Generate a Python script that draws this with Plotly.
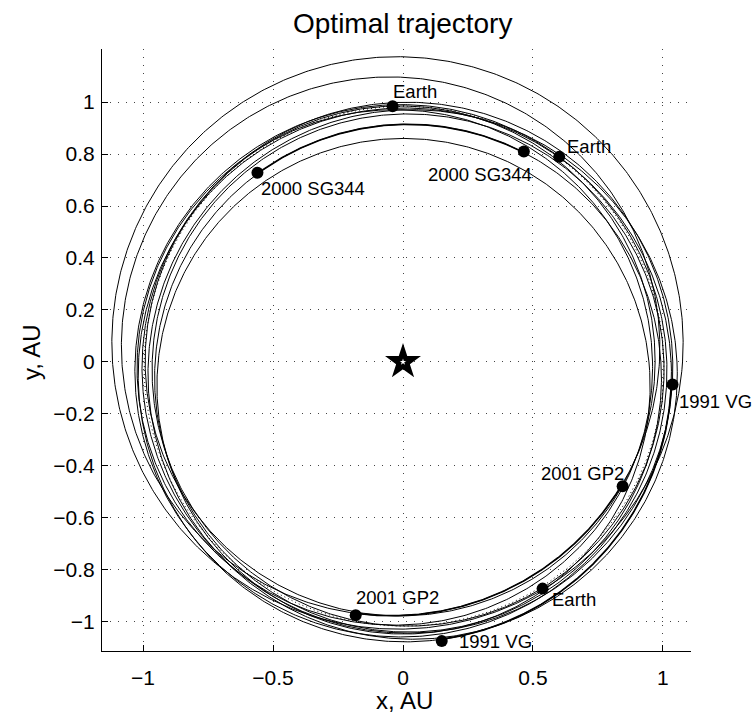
import numpy as np
import plotly.graph_objects as go

# ---- Planar orbit elements of the bodies (a [AU], e, longitude of perihelion [deg]) ----
body_names = ["Earth", "1991 VG", "2000 SG344", "2001 GP2"]
body_a = [1.000, 1.027, 0.977, 1.0375]
body_e = [0.0167, 0.049, 0.067, 0.0739]
body_lp = [102.9, 98.0, 107.2, -51.6]

# ---- Transfer loops: radius at right / top / left / bottom ----
loop_r_right = [1.073, 1.054, 1.038, 1.015, 1.004, 0.946, 0.970, 0.960]
loop_r_top = [1.177, 0.970, 0.999, 0.990, 0.954, 0.860, 0.985, 0.970]
loop_r_left = [1.115, 0.980, 1.004, 1.031, 0.965, 0.942, 0.992, 1.023]
loop_r_bottom = [1.030, 1.066, 1.043, 1.058, 1.016, 1.047, 0.977, 1.012]

# ---- Event markers (positions in AU) and their labels ----
event_labels = ["Earth", "Earth", "Earth", "2000 SG344", "2000 SG344",
                "2001 GP2", "2001 GP2", "1991 VG", "1991 VG"]
event_x = [-0.040, 0.601, 0.537, -0.560, 0.465, 0.845, -0.182, 1.037, 0.149]
event_y = [0.984, 0.789, -0.872, 0.728, 0.810, -0.478, -0.974, -0.087, -1.074]
label_x = [-0.045, 0.622, 0.567, -0.555, 0.088, 0.522, -0.190, 1.054, 0.207]
label_y = [1.040, 0.827, -0.913, 0.667, 0.721, -0.431, -0.906, -0.154, -1.076]

# ---- Stay arcs along asteroid orbits (between arrival and departure markers) ----
stay_body = ["2000 SG344", "2001 GP2", "1991 VG"]
stay_start_event = [4, 6, 8]
stay_end_event = [3, 5, 7]

x_ticks = [-1, -0.5, 0, 0.5, 1]
x_ticktext = ["\u22121", "\u22120.5", "0", "0.5", "1"]
y_ticks = [-1, -0.8, -0.6, -0.4, -0.2, 0, 0.2, 0.4, 0.6, 0.8, 1]
y_ticktext = ["\u22121", "\u22120.8", "\u22120.6", "\u22120.4", "\u22120.2", "0",
              "0.2", "0.4", "0.6", "0.8", "1"]

FONT = "Liberation Sans, Arial, Helvetica, sans-serif"

# plot-area geometry (pixels) used to place title texts
W, H = 753, 718
ML, MR, MT, MB = 102, 62, 49, 67
PW, PH = W - ML - MR, H - MT - MB


def px_to_paper(px, py):
    return (px - ML) / PW, (H - MB - py) / PH


def conic_r(a, e, lp_deg, th):
    p = a * (1 - e ** 2)
    return p / (1 + e * np.cos(th - np.radians(lp_deg)))


fig = go.Figure()
th_full = np.linspace(0, 2 * np.pi, 721)

# transfer loops
for rr, rt, rl, rb in zip(loop_r_right, loop_r_top, loop_r_left, loop_r_bottom):
    A = 0.5 * ((1 / rr + 1 / rl) / 2 + (1 / rt + 1 / rb) / 2)
    B = (1 / rr - 1 / rl) / 2
    C = (1 / rt - 1 / rb) / 2
    r = 1 / (A + B * np.cos(th_full) + C * np.sin(th_full))
    fig.add_trace(go.Scatter(x=r * np.cos(th_full), y=r * np.sin(th_full), mode="lines",
                             line=dict(color="black", width=1), hoverinfo="skip"))

# body orbits
for name, a, e, lp in zip(body_names, body_a, body_e, body_lp):
    r = conic_r(a, e, lp, th_full)
    dash = "1px,3px" if name == "Earth" else "solid"
    fig.add_trace(go.Scatter(x=r * np.cos(th_full), y=r * np.sin(th_full), mode="lines",
                             line=dict(color="black", width=1, dash=dash), hoverinfo="skip"))

# stay arcs (thicker)
for name, i0, i1 in zip(stay_body, stay_start_event, stay_end_event):
    k = body_names.index(name)
    t0 = np.arctan2(event_y[i0], event_x[i0])
    t1 = np.arctan2(event_y[i1], event_x[i1])
    if t1 < t0:
        t1 += 2 * np.pi
    th = np.linspace(t0, t1, 200)
    r = conic_r(body_a[k], body_e[k], body_lp[k], th)
    fig.add_trace(go.Scatter(x=r * np.cos(th), y=r * np.sin(th), mode="lines",
                             line=dict(color="black", width=1.7), hoverinfo="skip"))

# event markers
fig.add_trace(go.Scatter(x=event_x, y=event_y, mode="markers",
                         marker=dict(symbol="circle", size=12, color="black"),
                         hoverinfo="skip"))

# Sun
fig.add_trace(go.Scatter(x=[0], y=[0], mode="markers",
                         marker=dict(symbol="star", size=27, color="black"), hoverinfo="skip"))
fig.add_trace(go.Scatter(x=[0], y=[0], mode="markers",
                         marker=dict(symbol="star", size=5, color="white"), hoverinfo="skip"))

annotations = []
for t, lx, ly in zip(event_labels, label_x, label_y):
    annotations.append(dict(x=lx, y=ly, xref="x", yref="y", text=t, showarrow=False,
                            xanchor="left", yanchor="middle",
                            font=dict(family=FONT, size=18.5, color="black")))

# title and axis titles
tx, ty = px_to_paper(402, 24)
annotations.append(dict(x=tx, y=ty, xref="paper", yref="paper",
                        text="Optimal trajectory", showarrow=False,
                        xanchor="center", yanchor="middle",
                        font=dict(family=FONT, size=28, color="black")))
tx, ty = px_to_paper(404, 700)
annotations.append(dict(x=tx, y=ty, xref="paper", yref="paper",
                        text="x, AU", showarrow=False,
                        xanchor="center", yanchor="middle",
                        font=dict(family=FONT, size=24, color="black")))
tx, ty = px_to_paper(31, 352)
annotations.append(dict(x=tx, y=ty, xref="paper", yref="paper",
                        text="y, AU", showarrow=False, textangle=-90,
                        xanchor="center", yanchor="middle",
                        font=dict(family=FONT, size=24, color="black")))

fig.update_layout(
    width=W, height=H,
    margin=dict(l=ML, r=MR, t=MT, b=MB),
    paper_bgcolor="white", plot_bgcolor="white",
    showlegend=False,
    font=dict(family=FONT, size=21, color="black"),
    annotations=annotations,
)

grid_kw = dict(showgrid=True, gridcolor="#444444", gridwidth=1, griddash="1px,7px",
               zeroline=False, showline=True, linecolor="black", linewidth=1,
               ticks="inside", ticklen=6, tickwidth=1, tickcolor="black", mirror=False,
               tickfont=dict(family=FONT, size=21, color="black"))

fig.update_xaxes(range=[-1.158, 1.108], tickvals=x_ticks, ticktext=x_ticktext,
                 ticklabelstandoff=8, **grid_kw)
fig.update_yaxes(range=[-1.112, 1.204], tickvals=y_ticks, ticktext=y_ticktext,
                 ticklabelstandoff=2, **grid_kw)

fig.write_html("out.html", config={"displayModeBar": False})
